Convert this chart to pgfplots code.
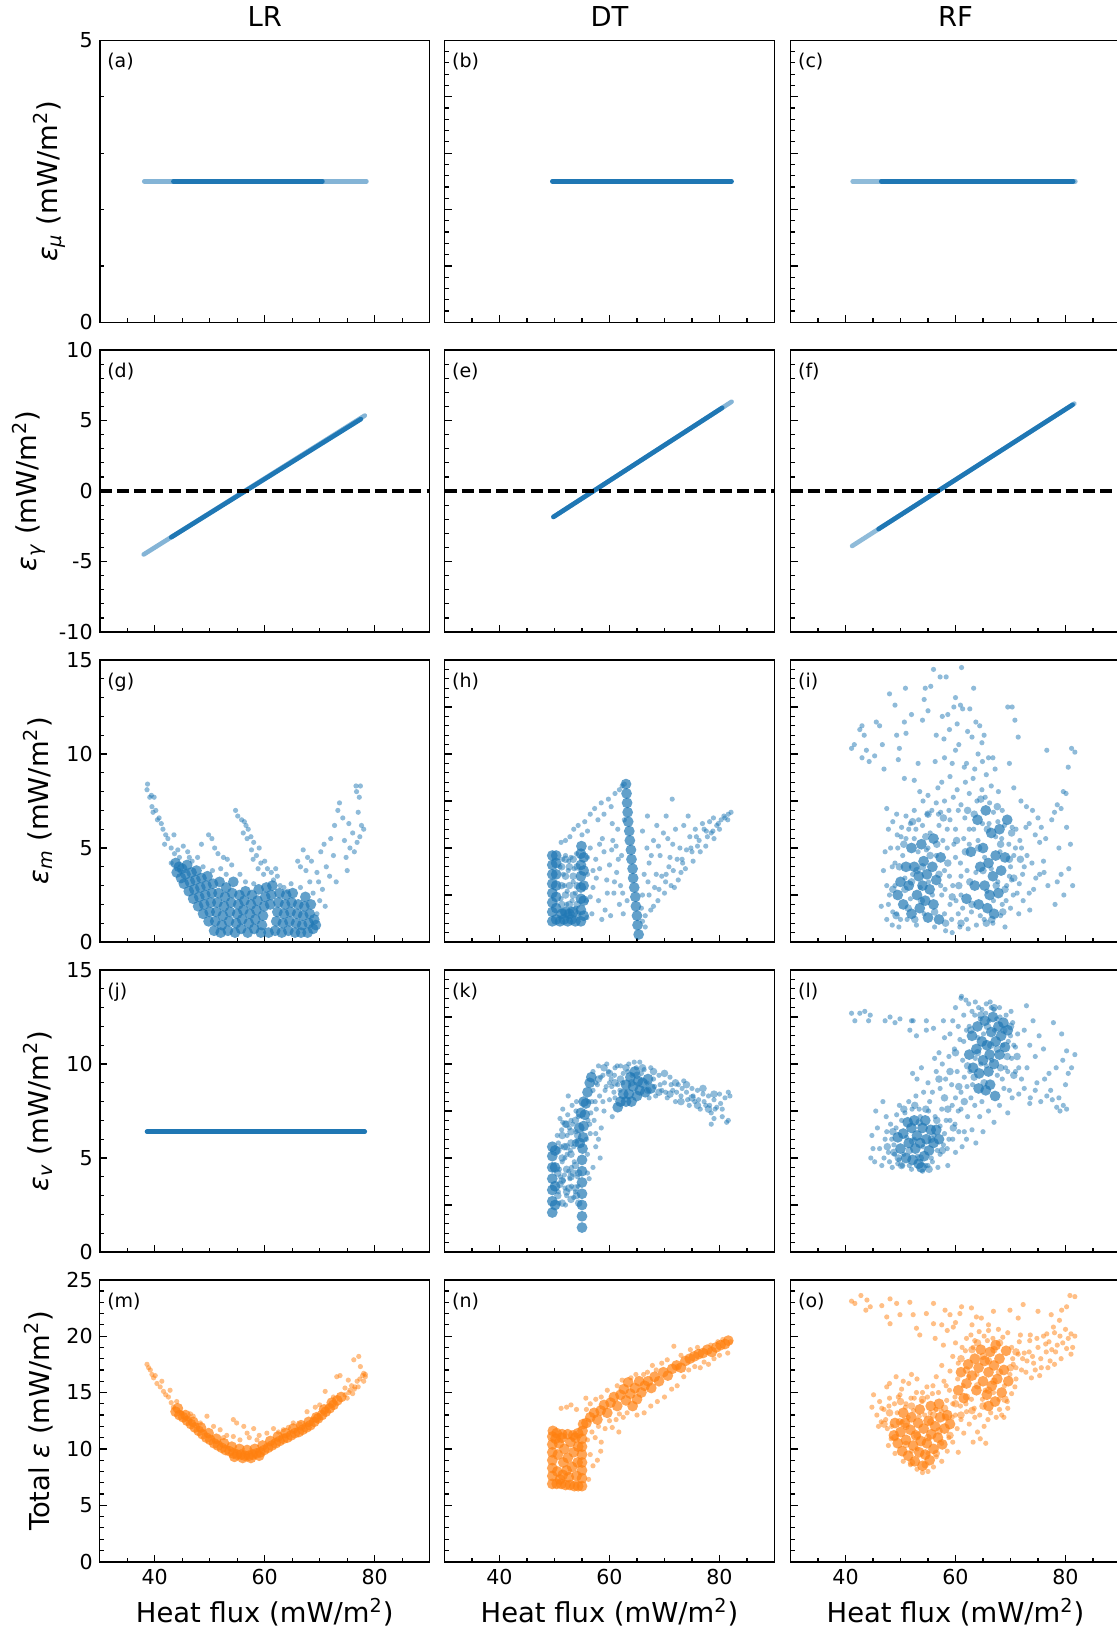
\documentclass[border=0pt]{standalone}
\usepackage{fontspec}
\setmainfont{DejaVu Sans}
\usepackage{pgfplots}
\pgfplotsset{compat=1.18}

\definecolor{tabblue}{HTML}{1F77B4}
\definecolor{taborange}{HTML}{FF7F0E}
\newcommand{\unitlab}{(mW/m\textsuperscript{2})}

\tikzset{plab/.style={anchor=north west, inner sep=0pt, xshift=3.6pt, yshift=-6.4pt, font=\fontsize{9.5}{11}\selectfont}}

\pgfplotsset{
  panel/.style={
    scale only axis, width=165pt, height=141pt, anchor=north west,
    xmin=30, xmax=90, xtick={40,60,80}, minor xtick={35,45,50,55,65,70,75,85},
    xticklabels={},
    tick align=inside, tick pos=left,
    major tick length=3.5pt, minor tick length=2pt,
    every tick/.append style={black, line width=0.6pt},
    axis line style={line width=0.8pt},
    tick label style={font=\fontsize{10.3}{12}\selectfont},
    label style={font=\fontsize{13.7}{16}\selectfont},
    every axis title/.style={at={(0.5,1)}, anchor=base, yshift=6.8pt, font=\fontsize{13.7}{16}\selectfont},
  },
  r1a/.style={ymin=0,ymax=5,ytick={0,5},yticklabels={0,5},minor y tick num=4},
  r1/.style={ymin=0,ymax=5,ytick={0,1,2,3,4,5},yticklabels={},minor y tick num=4},
  r2a/.style={ymin=-10,ymax=10,ytick={-10,-5,0,5,10},yticklabels={-10,-5,0,5,10},minor y tick num=4},
  r2/.style={ymin=-10,ymax=10,ytick={-10,-5,0,5,10},yticklabels={},minor y tick num=4},
  r3a/.style={ymin=0,ymax=15,ytick={0,5,10,15},yticklabels={0,5,10,15},minor y tick num=4},
  r3/.style={ymin=0,ymax=15,ytick={0,2.5,5,7.5,10,12.5,15},yticklabels={},minor y tick num=4},
  r5a/.style={ymin=0,ymax=25,ytick={0,5,10,15,20,25},yticklabels={0,5,10,15,20,25},minor y tick num=4},
  r5/.style={ymin=0,ymax=25,ytick={0,5,10,15,20,25},yticklabels={},minor y tick num=4},
  bottom/.style={xticklabels={40,60,80}, xlabel={Heat flux \unitlab}},
  pts/.style={color=#1, only marks, mark=*, mark size=1.3pt,
    mark options={fill=#1, fill opacity=0.5, draw opacity=0, line width=0pt}},
  mid/.style={color=#1, only marks, mark=*, mark size=1.9pt,
    mark options={fill=#1, fill opacity=0.5, draw opacity=0, line width=0pt}},
  core/.style={color=#1, only marks, mark=*, mark size=2.7pt,
    mark options={fill=#1, fill opacity=0.7, draw opacity=0, line width=0pt}},
  ln/.style={draw=tabblue, line width=2.3pt, line cap=round},
  zero/.style={black, line width=2pt, dash pattern=on 6pt off 2.6pt},
}

\begin{document}
\begin{tikzpicture}

% ---------------- row 1 ----------------
\begin{axis}[panel, r1a, at={(49.85pt,-20.15pt)}, title={LR},
  ylabel={\textit{ε}\textsubscript{\textit{μ}} \unitlab}]
\addplot[ln, opacity=0.55] coordinates {(38.1,2.5) (78.5,2.5)};
\addplot[ln] coordinates {(43.4,2.5) (70.5,2.5)};
\node[plab] at (rel axis cs:0,1) {(a)};
\end{axis}

\begin{axis}[panel, r1, at={(222.25pt,-20.15pt)}, title={DT}]
\addplot[ln] coordinates {(49.6,2.5) (82.2,2.5)};
\node[plab] at (rel axis cs:0,1) {(b)};
\end{axis}

\begin{axis}[panel, r1, at={(395.25pt,-20.15pt)}, title={RF}]
\addplot[ln, opacity=0.5] coordinates {(41.3,2.5) (81.8,2.5)};
\addplot[ln] coordinates {(46.5,2.5) (81.4,2.5)};
\node[plab] at (rel axis cs:0,1) {(c)};
\end{axis}

% ---------------- row 2 ----------------
\begin{axis}[panel, r2a, at={(49.85pt,-175pt)},
  ylabel={\textit{ε}\textsubscript{\textit{γ}} \unitlab}]
\addplot[ln, opacity=0.55] coordinates {(38.0,-4.5) (78.2,5.35)};
\addplot[ln] coordinates {(43.0,-3.28) (77.5,5.1)};
\addplot[zero] coordinates {(30,0) (90,0)};
\node[plab] at (rel axis cs:0,1) {(d)};
\end{axis}

\begin{axis}[panel, r2, at={(222.25pt,-175pt)}]
\addplot[ln, opacity=0.55] coordinates {(49.8,-1.84) (82.2,6.33)};
\addplot[ln] coordinates {(49.8,-1.84) (80.5,5.9)};
\addplot[zero] coordinates {(30,0) (90,0)};
\node[plab] at (rel axis cs:0,1) {(e)};
\end{axis}

\begin{axis}[panel, r2, at={(395.25pt,-175pt)}]
\addplot[ln, opacity=0.5] coordinates {(41.2,-3.9) (81.6,6.2)};
\addplot[ln] coordinates {(46.0,-2.7) (81.3,6.12)};
\addplot[zero] coordinates {(30,0) (90,0)};
\node[plab] at (rel axis cs:0,1) {(f)};
\end{axis}

% ---------------- row 3 ----------------
\begin{axis}[panel, r3a, at={(49.85pt,-330pt)},
  ylabel={\textit{ε}\textsubscript{\textit{m}} \unitlab}]
\addplot[pts=tabblue] coordinates {
(38.7,8.4)(38.6,8.1)(39.1,7.7)(39.4,7.8)(39.9,7.7)(39.5,7.2)(39.7,6.9)(40.2,7.0)(40.5,6.5)(40.8,6.6)
(41.2,6.3)(41.5,6.0)(42.0,5.7)(42.4,5.5)(41.8,5.2)(43.5,5.7)(43.0,5.0)(43.6,4.7)(44.2,4.9)(44.5,4.5)
(45.2,5.1)(46.0,4.8)(46.3,4.5)(47.8,4.5)(48.5,5.2)(49.8,5.7)(50.4,5.5)(50.9,5.0)(51.5,4.7)(52.5,4.5)
(53.2,4.4)(54.0,4.1)(52.0,3.9)(55.5,3.6)
(54.7,7.0)(55.1,6.7)(55.8,6.5)(56.3,6.4)(56.6,6.2)(57.0,6.0)(56.1,5.8)(56.8,5.5)(57.5,5.6)(58.0,5.3)
(57.6,4.9)(58.5,4.6)(59.0,5.0)(59.3,4.2)(60.0,4.3)(60.5,3.9)(61.2,3.7)(61.6,3.3)(62.3,3.5)(62.8,3.0)
(63.5,2.9)(64.2,2.7)(59.8,3.6)(58.8,3.9)(57.9,4.4)
(66.0,4.3)(66.5,4.0)(67.5,3.8)(67.0,4.9)(67.8,4.5)(68.5,4.3)(69.5,3.7)(70.2,4.8)(70.8,5.2)(71.2,4.0)
(71.8,3.5)(72.0,5.5)(72.5,4.6)(73.0,3.2)(72.7,6.2)(73.3,7.0)(73.6,7.4)(74.2,6.6)(74.5,5.4)(74.8,4.5)
(75.0,3.8)(75.5,5.0)(75.3,6.3)(76.0,5.8)(76.3,4.8)(76.7,8.0)(76.6,8.3)(77.4,8.3)(77.2,7.7)(77.0,6.9)
(77.6,6.2)(78.0,6.0)(77.3,5.6)(76.8,5.3)(70.5,2.8)(70.0,2.2)(71.0,1.9)(69.5,1.5)(68.8,2.6)(69.8,3.2)
(43.0,4.2)(46.8,4.3)(48.8,4.0)(50.5,3.8)(53.0,3.6)(56.5,3.2)(58.0,3.1)(62.0,3.9)(64.8,3.1)(66.5,2.9)(68.2,3.2)
};
\addplot[core=tabblue] coordinates {
(43.8,4.2)(44.0,3.7)(44.4,4.0)(44.8,3.4)(45.0,3.9)(45.3,3.1)(45.6,3.6)(45.9,4.1)(46.2,2.7)(46.4,3.2)
(46.7,3.7)(47.0,2.3)(47.2,2.8)(47.4,3.3)(47.6,3.8)(47.9,1.9)(48.1,2.4)(48.3,2.9)(48.5,3.4)(48.8,1.5)
(49.0,2.0)(49.2,2.5)(49.4,3.0)(49.6,3.5)(49.8,1.1)(50.0,1.6)(50.2,2.1)(50.4,2.6)(50.6,3.1)(50.8,0.6)
(51.0,1.1)(51.2,1.6)(51.4,2.1)(51.6,2.6)(51.8,3.2)(52.0,0.5)(52.2,0.9)(52.4,1.4)(52.6,1.9)(52.8,2.4)
(53.0,2.9)(53.3,0.6)(53.5,1.1)(53.7,1.6)(53.9,2.1)(54.1,2.6)(54.3,3.2)(54.6,0.5)(54.8,1.0)(55.0,1.5)
(55.2,2.0)(55.4,2.5)(55.7,0.7)(55.9,1.2)(56.1,1.7)(56.3,2.2)(56.5,2.7)(56.9,0.5)(57.1,1.0)(57.3,1.5)
(57.5,2.0)(57.7,2.5)(58.1,0.7)(58.3,1.2)(58.5,1.7)(58.7,2.2)(58.9,2.8)(59.3,0.5)(59.5,0.9)(59.7,1.4)
(59.9,1.9)(60.1,2.4)(60.3,2.9)(60.7,0.5)(61.0,2.0)(61.2,2.5)(61.4,3.0)(61.9,0.6)(62.1,1.1)(62.3,1.6)
(62.5,2.1)(62.7,2.6)(63.1,0.5)(63.3,1.0)(63.5,1.5)(63.7,2.0)(63.9,2.5)(64.3,0.6)(64.5,1.1)(64.7,1.6)
(64.9,2.1)(65.1,2.6)(65.5,0.5)(65.7,1.0)(65.9,1.5)(66.1,2.0)(66.6,0.5)(66.8,0.9)(67.0,1.4)(67.2,1.9)
(67.4,2.4)(67.8,0.5)(68.0,1.0)(68.2,1.5)(68.4,2.0)(68.8,0.7)(69.0,1.2)(69.3,0.9)
};
\node[plab] at (rel axis cs:0,1) {(g)};
\end{axis}

\begin{axis}[panel, r3, at={(222.25pt,-330pt)}]
\addplot[pts=tabblue] coordinates {
(51.2,5.3)(52.0,5.4)(52.8,5.6)(53.5,6.0)(54.3,6.2)(55.5,6.4)(56.5,6.8)(57.3,7.1)(58.5,7.4)(59.8,7.6)
(60.3,7.2)(61.0,7.9)(61.8,8.1)(62.3,8.3)(62.7,8.4)(59.0,6.8)(57.9,6.5)(56.0,5.9)(55.0,5.7)(60.5,6.3)(61.5,6.0)
(56.5,5.0)(57.5,4.4)(58.2,3.9)(59.0,4.8)(59.5,3.3)(60.0,4.1)(60.8,2.6)(61.3,3.7)(61.8,2.0)(62.2,4.6)
(56.0,3.6)(57.0,2.9)(58.0,2.2)(59.2,1.7)(60.2,1.4)(61.2,5.1)(62.0,3.0)(55.8,2.2)(56.8,1.5)(57.6,3.4)
(58.7,5.5)(60.6,5.4)(62.5,1.5)(63.2,2.2)
(66.0,5.9)(66.8,5.0)(67.2,4.2)(68.0,5.4)(68.5,3.6)(69.2,4.6)(69.8,5.8)(70.2,3.2)(70.8,4.0)(71.5,5.2)
(71.8,2.9)(72.3,4.4)(73.0,3.7)(73.5,6.2)(74.0,4.9)(74.6,5.6)(75.2,4.3)(75.6,6.0)(76.3,5.4)(76.9,6.3)
(77.5,5.1)(78.2,6.4)(78.8,5.9)(79.5,6.2)(80.3,6.5)(81.0,6.6)(81.6,6.8)(82.1,6.9)(81.5,6.5)(80.0,6.0)
(79.0,5.5)(77.8,5.6)(76.5,4.8)(75.0,4.8)(73.8,3.9)(72.5,3.3)(71.2,3.0)(70.0,2.6)(68.8,2.2)(67.5,1.7)
(66.5,1.4)(66.0,2.5)(67.0,3.2)(68.2,2.9)(69.5,3.5)(71.0,4.5)(72.8,5.0)(71.4,7.6)(66.5,0.8)(65.8,1.8)
(66.9,6.7)(68.6,6.2)(70.3,6.7)(79.8,6.3)(80.8,6.7)(78.5,5.8)
(57.0,3.8)(58.2,5.2)(59.6,2.6)(60.4,4.9)(61.6,4.4)(62.4,2.6)(56.5,2.4)(58.6,1.2)(60.9,3.2)(62.7,6.5)
(66.3,3.6)(67.6,4.6)(68.9,5.1)(70.6,5.5)(72.0,6.0)(73.2,4.4)(74.3,6.7)(75.8,5.6)(77.2,6.0)(78.9,6.6)
(66.0,1.1)(67.2,2.5)(68.0,1.9)(69.0,2.8)(70.3,3.6)(71.6,3.8)(73.3,4.2)(74.8,5.0)(76.0,5.1)(77.6,5.9)
(51.5,4.4)(52.5,3.8)(53.0,4.5)(53.8,2.6)(52.2,2.0)(53.4,3.2)(52.8,1.5)(51.8,3.0)(56.0,4.5)(55.9,1.3)
(51.2,2.3)(51.6,3.6)(52.3,2.7)(52.6,4.3)(53.2,2.2)(53.6,3.9)(52.0,4.6)(51.0,4.0)(53.9,1.8)(54.0,4.7)
};
\addplot[mid=tabblue] coordinates {
(51.3,2.0)(51.3,3.0)(51.3,4.0)(52.0,2.5)(52.0,3.5)(52.0,4.4)(52.7,2.0)(52.7,3.0)(52.7,4.0)(53.4,2.5)
(53.4,3.5)(53.4,4.4)(54.1,2.0)(54.1,3.0)(54.1,4.0)(51.6,1.6)(53.0,1.7)(54.2,1.5)
};
\addplot[core=tabblue] coordinates {
(49.6,1.1)(49.6,1.6)(49.6,2.1)(49.6,2.6)(49.6,3.1)(49.6,3.6)(49.6,4.1)(49.6,4.6)
(50.3,1.2)(50.3,1.8)(50.3,2.4)(50.3,3.0)(50.3,3.6)(50.3,4.2)(50.3,4.6)
(51.0,1.1)(51.7,1.2)(52.4,1.1)(53.1,1.2)(53.8,1.1)(51.3,1.5)(52.0,1.6)(52.7,1.5)(53.4,1.6)
(54.8,1.1)(54.8,1.7)(54.8,2.3)(54.8,2.9)(54.8,3.5)(54.8,4.1)(54.8,4.7)(54.9,5.1)
(55.3,1.4)(55.3,2.2)(55.3,3.0)(55.3,3.8)(55.3,4.5)
(63.0,8.4)(63.1,7.9)(63.2,7.4)(63.3,6.9)(63.4,6.4)(63.6,5.9)(63.7,5.4)(63.9,4.9)(64.0,4.4)(64.2,3.9)
(64.3,3.4)(64.5,2.9)(64.7,2.4)(64.8,1.9)(65.0,1.4)(65.1,0.9)(65.3,0.4)
};
\node[plab] at (rel axis cs:0,1) {(h)};
\end{axis}

\begin{axis}[panel, r3, at={(395.25pt,-330pt)}]
\addplot[pts=tabblue] coordinates {
(41.1,10.3)(41.6,10.5)(43.0,11.5)(43.4,11.0)(43.8,10.2)(43.0,9.8)(42.6,11.3)(44.3,9.6)(45.6,11.7)(45.3,9.9)
(46.2,11.5)(46.7,10.5)(47.0,9.2)(48.0,13.2)(49.0,12.6)(49.3,11.0)(49.6,9.7)(49.8,10.3)(50.9,13.5)(50.7,11.7)
(51.0,11.1)(50.7,8.7)(52.0,12.1)(52.5,8.6)(53.2,9.5)(53.5,8.0)(54.0,11.8)(54.3,12.9)(54.5,13.5)(55.0,12.3)
(55.5,13.6)(56.0,14.5)(56.3,9.6)(56.8,8.2)(57.2,14.1)(57.6,12.0)(57.9,10.8)(58.3,14.1)(58.6,12.1)(58.9,11.3)
(59.4,9.5)(59.7,12.5)(60.0,13.0)(60.3,11.6)(60.6,10.5)(60.9,12.6)(61.1,14.6)(61.3,12.4)(61.6,9.3)(62.2,11.2)
(62.6,12.4)(63.0,10.9)(63.3,13.5)(63.7,11.7)(64.1,10.0)(64.4,11.5)(64.9,9.6)(65.2,11.0)(65.6,8.9)(66.0,9.8)
(66.5,8.3)(67.2,9.2)(67.8,8.0)(68.5,7.0)(69.5,12.5)(70.3,12.5)(70.8,11.8)(71.4,10.9)(69.8,9.5)(70.6,8.2)
(71.9,7.5)(72.9,7.2)(73.4,6.3)(74.0,7.0)(74.5,5.7)(75.0,6.6)(75.6,6.1)(76.4,5.5)(76.6,10.2)(77.5,6.5)
(78.0,6.9)(78.5,7.3)(78.8,5.0)(79.2,7.1)(79.6,8.0)(80.1,7.9)(80.2,6.1)(80.5,9.3)(81.1,10.3)(81.7,10.1)
(80.9,5.2)(80.6,3.9)(81.3,3.0)(79.7,2.5)(79.2,3.6)(78.5,3.2)(78.1,2.0)(76.8,3.0)(76.0,4.3)(75.3,3.6)
(74.2,2.8)(73.5,1.7)(72.5,4.0)(71.6,3.1)(70.9,5.0)(70.3,6.1)(69.8,3.5)(69.2,2.2)(68.4,5.5)(67.7,6.4)
(66.9,6.9)(66.2,7.4)(65.4,7.7)(64.8,8.1)(63.9,7.5)(63.2,8.7)(62.5,7.9)(61.8,8.5)(61.0,7.3)(60.3,8.1)
(59.6,7.7)(58.8,7.0)(58.0,7.5)(57.3,6.9)(56.5,7.4)(55.7,7.0)(54.9,6.8)(54.1,7.5)(53.3,6.5)(52.5,7.0)
(51.8,6.3)(51.0,6.7)(50.2,6.1)(49.4,5.7)(48.6,6.4)(47.8,6.0)(47.2,4.8)(47.5,7.1)(46.9,3.8)(46.5,1.9)
(47.5,1.2)(48.5,0.9)(49.3,1.5)(58.2,0.6)(59.4,0.5)(60.8,0.8)(62.3,0.7)(63.8,0.9)(65.2,1.2)(66.8,1.0)
(68.2,1.4)(69.0,0.8)
(48.0,2.5)(48.5,4.0)(49.0,3.0)(49.5,5.0)(50.0,1.2)(51.0,5.5)(52.8,6.0)(55.0,5.0)(57.5,2.5)(58.0,3.8)
(58.5,5.0)(59.0,2.0)(59.5,3.0)(60.0,4.5)(60.5,1.5)(61.0,3.5)(61.5,5.5)(62.0,1.2)(62.5,6.0)(60.0,6.0)
(59.0,6.5)(58.0,1.5)(57.0,6.2)(61.0,2.5)(70.0,4.0)(70.5,2.5)(71.0,6.0)(72.0,5.0)(72.3,2.2)(71.5,1.5)
(73.0,4.6)(70.0,1.8)
(47.5,3.0)(47.8,2.0)(48.2,5.0)(48.6,1.6)(49.0,4.2)(49.3,6.8)(49.7,0.8)(50.1,5.6)(50.4,4.6)(50.8,3.4)
(51.2,1.2)(51.5,6.0)(51.8,2.3)(52.2,3.6)(52.5,5.5)(52.9,0.9)(53.2,4.8)(53.6,2.9)(54.0,6.2)(54.3,1.5)
(54.7,4.9)(55.1,3.2)(55.4,5.8)(55.8,2.5)(56.2,0.8)(56.5,4.6)(56.9,6.8)(57.3,3.0)(57.7,5.4)(58.1,2.8)
(58.5,6.0)(58.9,3.5)(59.3,1.2)(59.7,5.2)(60.1,2.2)(60.5,7.0)(60.9,4.2)(61.3,1.8)(61.7,6.6)(62.1,3.8)
(62.5,5.2)(62.9,1.6)(63.3,6.0)(63.7,3.7)(64.1,5.4)(64.5,1.4)(64.9,6.3)(65.3,4.5)(65.7,2.7)(66.1,6.3)
(66.5,3.9)(66.9,2.2)(67.3,5.6)(67.7,3.2)(68.1,4.8)(68.5,2.0)(68.9,6.2)(69.3,3.0)(69.7,5.2)(70.2,3.3)
(70.6,4.6)(71.2,2.6)(71.7,5.4)(72.2,3.6)(72.8,6.1)(73.4,2.6)(73.9,4.2)(74.6,3.4)(75.3,5.3)(76.1,3.7)
(55.0,7.8)(57.5,8.5)(59.0,8.8)(62.0,9.5)(63.5,9.2)(64.8,10.6)(66.8,9.8)(60.0,10.2)(58.0,9.8)(56.5,11.0)
};
\addplot[mid=tabblue] coordinates {
(49.8,4.0)(50.6,5.2)(51.4,1.8)(52.2,6.4)(53.0,3.8)(53.8,2.2)(54.6,5.6)(55.4,4.6)(56.2,1.6)(57.0,3.6)
(57.8,6.6)(58.6,4.2)(59.4,2.4)(60.2,5.4)(61.0,1.0)(61.8,4.8)(62.6,3.2)(63.4,6.8)(64.2,5.0)(65.0,3.8)
(65.8,6.0)(66.6,1.2)(67.4,3.0)(68.2,5.2)(69.0,2.8)(69.8,4.4)(70.6,3.4)(50.8,2.8)(52.6,1.2)(55.0,6.8)
(56.6,5.2)(58.2,1.0)(60.6,3.0)(62.2,7.0)(64.6,7.6)(67.6,7.2)(63.0,2.0)(65.6,1.0)(54.0,4.0)(52.0,3.2)
(68.6,1.6)(70.2,5.8)(71.8,4.4)(48.6,2.8)(49.2,1.4)
};
\addplot[core=tabblue] coordinates {
(50.5,2.0)(51.5,3.0)(52.0,1.5)(52.5,4.0)(53.0,2.5)(53.3,3.5)(53.5,1.8)(54.0,3.0)(54.2,4.3)(54.5,2.2)
(54.8,3.6)(55.0,1.3)(55.3,2.8)(55.8,4.0)(56.0,2.0)(56.5,3.3)(57.0,1.2)(57.3,4.5)(51.0,4.0)(50.0,3.2)
(49.5,2.5)(52.0,5.0)(53.8,5.2)(56.0,5.5)
(63.5,3.0)(64.2,2.0)(64.5,4.0)(65.0,5.0)(65.3,3.0)(65.8,1.8)(66.0,4.2)(66.2,2.5)(66.5,5.8)(66.8,3.5)
(67.0,1.5)(67.3,4.6)(67.8,2.6)(68.0,6.0)(68.3,3.8)(62.8,4.8)(62.0,2.3)(64.0,6.5)(65.5,7.0)(69.0,4.5)(69.4,6.5)
};
\node[plab] at (rel axis cs:0,1) {(i)};
\end{axis}

% ---------------- row 4 ----------------
\begin{axis}[panel, r3a, at={(49.85pt,-485pt)},
  ylabel={\textit{ε}\textsubscript{\textit{v}} \unitlab}]
\addplot[ln] coordinates {(38.6,6.4) (78.2,6.4)};
\node[plab] at (rel axis cs:0,1) {(j)};
\end{axis}

\begin{axis}[panel, r3, at={(222.25pt,-485pt)}]
\addplot[pts=tabblue] coordinates {
(50.7,3.2)(50.9,4.4)(51.2,5.6)(51.3,6.5)(51.6,3.8)(51.9,5.0)(52.2,3.0)(52.3,6.2)(52.6,4.3)(52.9,5.4)
(53.1,3.5)(53.3,6.8)(53.6,4.8)(53.8,3.2)(54.0,5.9)(54.2,4.0)(51.0,7.1)(51.5,7.6)(52.4,7.3)(53.2,7.8)
(50.5,6.2)(51.8,4.1)(53.5,2.9)(54.3,7.2)(50.8,2.6)(52.0,2.5)(51.4,4.8)(52.8,3.9)(53.9,6.4)
(57.0,9.6)(57.5,9.0)(58.0,9.9)(58.2,8.3)(58.8,9.4)(59.2,8.6)(59.5,10.0)(60.0,8.1)(60.3,9.2)(60.8,8.5)
(61.0,9.8)(61.5,8.9)(62.0,9.9)(62.5,9.5)(63.5,10.0)(64.5,10.1)(65.5,10.1)(66.3,9.7)(67.5,9.8)(68.0,9.2)
(68.4,8.3)(69.0,9.4)(69.5,8.6)(70.0,9.0)(70.5,8.2)(71.0,9.3)(71.5,8.6)(72.0,8.0)(72.5,8.9)(73.0,8.3)
(73.5,9.1)(74.0,8.5)(74.5,7.8)(75.0,8.7)(75.5,8.0)(76.0,8.6)(76.5,7.6)(77.0,8.4)(77.5,7.8)(78.0,8.3)
(78.5,7.4)(79.0,8.1)(79.5,7.7)(80.0,8.4)(80.5,7.6)(81.0,8.2)(81.6,8.5)(81.9,8.3)(78.5,6.8)(79.0,7.1)
(80.5,7.2)(81.3,6.9)(81.6,7.0)(59.0,7.5)(60.5,7.2)(58.0,6.0)(58.3,5.0)(57.5,5.6)(56.5,6.3)(57.0,4.5)
(56.3,3.9)(56.0,5.2)(56.1,7.0)(58.5,6.6)(57.6,7.6)(56.8,8.0)(52.5,8.3)(53.0,7.0)(54.0,8.0)
(50.7,5.8)(51.1,4.0)(51.5,6.9)(51.9,3.4)(52.3,5.2)(52.7,6.6)(53.1,4.5)(53.5,5.6)(53.9,7.5)(54.3,3.5)
(55.8,6.0)(56.2,8.0)(56.6,7.4)(57.0,8.6)(57.4,8.0)(57.8,8.9)(58.4,9.3)(58.8,8.0)(59.4,8.8)(59.8,9.6)
(60.4,8.8)(60.9,9.4)(61.4,9.9)(61.9,8.6)(62.4,9.0)(63.3,9.6)(64.1,9.4)(64.9,9.8)(65.8,9.5)(66.8,9.0)
(67.2,8.2)(68.2,8.8)(69.2,8.9)(70.2,8.5)(71.2,8.9)(72.2,8.5)(73.2,8.7)(74.2,8.1)(75.2,8.3)(76.2,8.1)
(77.2,8.0)(78.2,7.8)(79.2,7.6)(80.2,7.9)(61.0,8.2)(60.0,9.0)(56.4,6.8)(57.2,7.0)(56.0,4.2)(57.5,6.3)
};
\addplot[mid=tabblue] coordinates {
(51.0,3.6)(51.8,5.6)(52.6,3.4)(53.4,4.2)(54.2,6.2)(52.0,6.8)(53.0,5.8)(54.0,3.0)(58.0,9.2)(59.0,9.8)
(60.0,9.5)(61.0,9.0)(62.0,9.2)(63.0,9.8)(64.0,9.0)(65.0,9.4)(66.0,9.8)(67.0,8.6)(68.0,9.6)(69.0,8.5)
(70.0,9.5)(71.0,8.4)(72.0,9.0)(73.0,8.0)(74.0,8.9)(75.0,8.2)(76.0,7.8)(77.0,8.7)(78.0,7.6)(79.0,8.4)
(50.6,3.0)(50.6,4.2)(50.6,5.4)(51.4,2.6)(51.4,3.8)(51.4,5.0)(51.4,6.2)(52.2,3.2)(52.2,4.4)(52.2,5.6)
(52.2,6.8)(53.0,2.8)(53.0,4.0)(53.0,5.2)(53.0,6.4)(53.8,3.4)(53.8,4.6)(53.8,5.8)(53.8,7.0)(54.4,2.6)(54.4,4.2)
};
\addplot[core=tabblue] coordinates {
(49.6,2.1)(49.6,2.7)(49.6,3.3)(49.6,3.9)(49.6,4.5)(49.6,5.1)(49.6,5.6)(50.1,2.5)(50.1,3.5)(50.1,4.5)(50.1,5.4)
(55.0,1.3)(55.0,1.9)(55.0,2.5)(55.0,3.1)(55.0,3.7)(55.0,4.3)(55.0,4.9)(55.1,5.5)(55.2,6.1)(55.3,6.7)
(55.5,7.3)(55.7,7.9)(56.0,8.5)(56.4,9.0)(56.7,9.3)(54.6,5.8)(54.5,6.6)(54.8,7.4)(55.3,8.0)
(62.5,8.4)(63.0,8.0)(63.0,8.9)(63.5,8.4)(63.8,9.3)(64.0,8.0)(64.3,8.8)(64.6,9.6)(65.0,8.3)(65.2,9.1)
(65.5,8.6)(66.0,9.0)(66.5,8.5)(67.0,9.2)(67.5,8.7)(62.0,8.0)(61.5,7.7)
};
\node[plab] at (rel axis cs:0,1) {(k)};
\end{axis}

\begin{axis}[panel, r3, at={(395.25pt,-485pt)}]
\addplot[pts=tabblue] coordinates {
(41.1,12.7)(41.7,12.3)(42.6,12.7)(43.5,12.8)(44.2,12.3)(44.5,12.6)(47.2,12.3)(48.1,12.5)(49.0,12.2)(49.9,12.4)
(52.0,12.3)(52.3,12.3)(54.7,12.3)(51.7,11.8)(52.9,11.5)(54.7,11.8)(56.0,11.9)(57.8,12.3)
(44.6,5.0)(45.0,5.5)(45.3,4.8)(45.8,6.6)(46.2,5.5)(46.6,4.6)(47.2,6.0)(47.4,7.2)(47.8,5.3)(48.2,6.8)
(48.5,4.5)(48.8,5.7)(49.3,7.3)(49.5,4.7)(49.8,7.8)(50.3,4.6)(50.8,7.4)(51.5,8.0)(52.0,4.4)(52.8,8.3)
(53.4,7.6)(54.0,4.3)(55.0,4.6)(55.8,4.8)(56.3,7.2)(57.2,5.2)(57.5,7.6)(58.0,6.3)(58.5,5.5)(59.0,7.0)
(59.5,6.0)(60.0,5.3)(60.6,6.4)(61.2,5.6)(62.0,6.0)(58.6,4.6)(56.8,4.5)(55.3,8.0)(54.2,8.5)(53.0,9.2)
(52.2,9.5)(53.8,9.8)(45.5,7.5)(46.8,8.0)(44.8,6.2)
(55.0,9.0)(55.8,8.5)(56.5,9.6)(57.2,8.7)(57.6,10.0)(58.2,9.2)(58.8,10.4)(59.3,8.9)(59.8,10.8)(60.3,9.6)
(60.8,11.3)(61.3,10.2)(60.0,8.2)(61.0,7.6)(62.2,7.2)(63.0,6.5)(63.7,5.8)(64.4,7.2)(65.0,6.4)(64.8,8.0)
(59.5,12.3)(60.0,13.0)(60.5,12.0)(61.0,13.5)(61.5,12.6)(62.0,11.8)(62.4,13.2)(63.0,12.8)(63.6,13.3)(64.2,13.0)
(64.8,12.9)(65.6,13.2)(66.3,13.3)(67.0,12.9)(68.0,13.0)(69.2,12.6)(70.0,11.5)(70.4,12.2)(70.9,10.9)(71.3,11.6)
(70.2,10.3)(69.5,9.6)(68.8,8.7)(68.0,7.8)(69.5,7.4)(70.3,8.2)(71.5,9.8)(72.9,13.1)(74.1,12.3)(72.5,11.8)
(73.5,11.0)(74.5,10.4)(75.2,11.5)(76.0,10.8)(77.8,12.2)(79.3,11.6)(80.2,10.7)(81.7,10.5)(80.5,9.5)(79.5,10.2)
(78.3,9.8)(77.0,9.5)(76.6,8.3)(75.5,8.0)(74.5,8.6)(73.6,8.2)(72.5,8.7)(71.5,8.4)(78.4,7.7)(79.6,7.8)
(80.2,7.6)(79.0,7.5)(77.6,8.1)(81.1,9.8)(61.6,6.4)(62.8,8.2)(63.5,7.8)(66.0,7.5)(67.0,6.9)(61.1,13.6)(61.9,13.4)
(47.0,5.0)(47.5,6.4)(48.0,4.8)(48.4,6.0)(48.9,5.2)(49.2,6.6)(49.7,4.9)(50.2,7.0)(50.6,5.2)(51.1,6.1)
(51.6,4.6)(52.1,7.6)(52.5,6.0)(53.1,5.1)(53.6,7.2)(54.1,5.6)(54.6,4.6)(55.1,7.5)(55.6,5.0)(56.1,6.2)
(56.7,5.4)(57.2,6.7)(57.8,5.7)(58.3,7.0)(58.8,6.0)(59.4,7.8)(59.9,6.8)(60.5,7.5)(61.0,8.5)(61.6,9.3)
(62.1,8.8)(62.6,9.6)(63.1,8.9)(63.6,10.3)(64.1,11.4)(64.6,10.0)(65.1,11.6)(65.6,9.9)(66.1,12.3)(66.6,10.2)
(67.1,11.8)(67.6,9.4)(68.1,12.5)(68.6,11.0)(69.1,9.8)(69.6,11.2)(70.1,12.8)(70.6,11.0)(61.5,11.2)(62.5,12.0)
(63.5,12.6)(64.5,12.4)(65.5,12.7)(66.5,13.0)(67.5,12.4)(68.5,9.2)(69.8,8.6)(70.9,9.6)(72.0,9.2)(73.0,9.8)
(73.5,7.9)(74.8,9.0)(76.2,9.2)(77.3,8.6)(78.8,8.2)(80.0,8.9)(57.0,10.6)(58.0,11.4)(59.0,11.6)(56.2,10.3)
};
\addplot[mid=tabblue] coordinates {
(47.6,5.6)(48.6,6.4)(49.6,5.0)(50.6,7.6)(51.6,5.4)(52.6,7.8)(53.6,5.0)(54.6,7.6)(55.6,6.0)(56.6,7.0)
(57.6,5.4)(58.6,7.6)(59.6,6.6)(60.6,8.8)(61.6,8.0)(62.2,9.9)(62.8,11.8)(63.4,9.3)(64.0,10.6)(64.6,12.6)
(65.2,9.0)(65.8,12.0)(66.4,11.0)(67.0,13.0)(67.6,10.8)(68.2,9.8)(68.8,11.8)(69.4,10.4)(70.0,12.0)(70.6,9.4)
(71.2,10.4)(59.0,9.6)(60.0,10.6)(58.0,8.2)(57.0,9.2)(55.2,4.4)(50.2,4.6)(52.2,5.9)(48.8,5.3)(53.4,6.9)
};
\addplot[core=tabblue] coordinates {
(50.0,5.5)(50.5,6.3)(51.0,5.0)(51.5,5.8)(52.0,6.6)(52.2,4.9)(52.7,5.5)(53.0,6.2)(53.3,4.7)(53.6,5.8)
(54.0,6.6)(54.3,5.1)(54.7,6.0)(55.2,5.4)(55.5,6.5)(56.0,5.8)(53.8,4.5)(52.5,7.0)(51.3,6.9)(49.5,6.1)
(54.5,7.0)(56.5,6.5)(57.0,6.0)
(62.5,10.5)(63.0,11.5)(63.2,9.8)(63.8,10.8)(64.0,12.0)(64.3,9.5)(64.8,11.2)(65.0,10.2)(65.3,12.3)(65.7,11.0)
(66.0,9.6)(66.2,10.5)(66.5,11.7)(66.8,12.5)(67.0,10.0)(67.3,11.2)(67.8,12.0)(68.0,10.5)(68.3,11.5)(68.7,12.2)
(69.0,10.9)(65.5,8.6)(66.3,8.9)(67.2,8.3)(64.2,8.7)(69.5,11.8)
};
\node[plab] at (rel axis cs:0,1) {(l)};
\end{axis}

% ---------------- row 5 ----------------
\begin{axis}[panel, r5a, bottom, at={(49.85pt,-639.85pt)},
  ylabel={Total \textit{ε} \unitlab}]
\addplot[pts=taborange] coordinates {
(38.6,17.5)(38.9,17.2)(39.2,17.0)(39.5,16.6)(39.8,16.3)(40.1,16.5)(40.4,15.8)(41.0,15.5)(41.6,15.1)(42.0,14.8)
(42.5,14.6)(43.0,14.1)(43.4,13.7)(42.8,15.2)(41.3,16.0)
(44.9,13.2)(45.8,12.7)(47.0,12.9)(48.3,12.3)(49.5,12.9)(50.7,12.0)(51.9,11.7)(53.1,11.2)(54.3,11.1)(54.3,12.6)
(54.9,12.3)(56.2,12.0)(56.8,11.4)(58.0,11.8)(60.4,11.4)(61.6,11.8)(63.4,11.7)(65.2,12.3)(66.4,12.2)(67.7,13.3)
(69.2,13.7)(71.0,15.1)(72.5,14.6)(73.1,16.4)(73.7,16.5)(74.6,15.4)(76.2,17.9)(77.1,18.2)(77.4,17.3)(78.0,16.7)
(78.3,16.4)(75.2,16.1)(75.5,15.2)(76.4,15.5)(57.2,11.0)(59.0,11.2)(62.5,11.5)(64.3,11.9)(70.0,13.9)(58.6,10.8)
(55.5,10.8)(52.5,11.0)(46.5,13.1)(44.0,14.2)
(74.6,14.8)(75.3,15.0)(75.8,15.6)(76.3,15.3)(76.8,16.0)(77.3,16.2)(77.8,16.5)(78.3,16.6)(78.0,16.0)(77.0,15.5)
(76.0,14.9)(75.0,14.5)
};
\addplot[core=taborange] coordinates {
(43.8,13.3)(44.5,13.0)(45.2,12.8)(45.9,12.5)(46.6,12.2)(47.3,11.9)(48.0,11.6)(48.7,11.3)(49.4,11.0)(50.1,10.8)
(50.8,10.5)(51.5,10.3)(52.2,10.1)(52.9,9.9)(53.6,9.8)(54.3,9.6)(55.0,9.5)(55.7,9.5)(56.4,9.4)(57.1,9.4)
(57.8,9.5)(58.5,9.6)(59.2,9.7)(59.9,9.9)(60.6,10.1)(61.3,10.3)(62.0,10.5)(62.7,10.7)(63.4,10.9)(64.1,11.0)
(64.8,11.2)(65.5,11.4)(66.2,11.5)(66.9,11.7)(67.6,11.9)(68.3,12.1)(69.0,12.4)(69.7,12.7)(70.4,13.0)(71.1,13.3)
(71.8,13.6)(72.5,13.9)(73.2,14.3)(73.9,14.6)
(44.2,13.6)(45.6,13.0)(47.0,12.4)(48.4,11.9)(49.8,11.4)(51.2,10.9)(52.6,10.5)(54.0,10.2)(55.4,10.0)(56.8,9.9)
(58.2,10.0)(59.6,10.3)(61.0,10.7)(62.4,11.1)(63.8,11.4)(65.2,11.8)(66.6,12.1)(68.0,12.4)(69.4,12.8)(70.8,13.5)
(72.2,14.1)(54.5,9.3)(56.0,9.2)(57.5,9.2)(59.0,9.4)
};
\node[plab] at (rel axis cs:0,1) {(m)};
\end{axis}

\begin{axis}[panel, r5, bottom, at={(222.25pt,-639.85pt)}]
\addplot[pts=taborange] coordinates {
(56.0,10.8)(56.8,11.5)(57.4,11.0)(58.0,12.0)(58.5,10.6)(59.2,11.8)(60.0,12.5)(60.5,11.9)(61.2,12.6)(61.8,13.1)
(62.5,12.8)(63.2,13.2)(55.8,13.5)(56.5,14.0)(57.5,14.4)(58.5,14.6)(59.6,15.2)(61.4,15.6)(62.3,16.1)(63.9,16.3)
(64.8,16.6)(66.2,16.6)(66.9,16.8)(67.8,17.4)(68.5,17.0)(69.5,17.6)(70.5,17.9)(71.7,19.1)(72.3,17.3)(73.5,16.4)
(74.4,17.0)(75.5,17.3)(76.5,17.2)(77.2,17.7)(78.0,17.5)(79.0,18.0)(80.0,18.3)(81.5,18.5)(82.0,19.5)(80.6,19.7)
(79.7,19.5)(78.4,19.2)(76.0,19.0)(74.7,18.8)(73.0,18.3)(66.3,13.2)(67.5,13.8)(68.7,14.2)(70.0,14.6)(71.3,15.3)
(72.3,15.6)(65.0,13.0)(57.8,9.0)(58.4,9.8)(61.7,11.5)(56.5,9.5)(52.2,13.7)(51.2,13.6)(53.0,13.9)(55.7,14.5)
(54.0,13.5)(56.2,7.3)(57.0,8.5)
};
\addplot[core=taborange] coordinates {
(49.6,6.9)(49.6,7.6)(49.6,8.3)(49.6,9.0)(49.6,9.7)(49.6,10.4)(49.6,11.1)(49.7,11.6)
(55.0,6.7)(55.0,7.4)(55.0,8.1)(55.0,8.8)(55.0,9.5)(55.0,10.2)(55.0,10.9)(55.1,11.6)(55.2,12.2)
(50.4,6.9)(51.2,6.9)(52.0,6.8)(52.8,6.8)(53.6,6.7)(54.3,6.7)
(50.4,11.4)(51.4,11.3)(52.4,11.3)(53.4,11.2)(54.3,11.4)
(50.5,8.0)(50.6,9.5)(50.8,10.5)(51.5,7.7)(51.6,8.8)(51.8,10.0)(52.4,9.2)(52.6,7.5)(52.9,10.6)(53.2,8.4)
(53.5,9.7)(54.0,7.6)(54.2,8.8)(54.3,10.2)(51.0,7.3)(52.2,8.1)(53.8,11.0)(50.2,10.9)(51.3,11.0)
(55.8,12.3)(56.5,12.8)(57.2,13.2)(57.8,12.6)(58.4,13.4)(59.0,13.9)(59.6,13.2)(60.2,14.1)(60.8,14.6)(61.4,13.8)
(62.0,14.8)(62.6,15.3)(63.0,14.3)(63.4,15.9)(63.8,14.9)(64.2,13.8)(64.6,15.4)(65.0,14.4)(65.4,16.0)(65.8,15.0)
(66.4,15.6)(67.0,16.0)(67.6,15.4)(68.2,16.4)(69.0,16.0)(69.8,16.8)(70.6,16.5)(71.4,17.1)(72.2,17.4)(73.0,17.2)
(73.8,17.8)(74.6,18.0)(75.4,18.2)(76.2,18.4)(77.0,18.5)(77.8,18.8)(78.6,18.6)(79.4,19.0)(80.2,19.2)(81.0,19.3)(81.6,19.6)
};
\node[plab] at (rel axis cs:0,1) {(n)};
\end{axis}

\begin{axis}[panel, r5, bottom, at={(395.25pt,-639.85pt)}]
\addplot[pts=taborange] coordinates {
(41.1,23.1)(41.7,22.9)(42.8,23.6)(43.9,23.2)(43.7,22.3)(44.5,22.6)(46.6,22.7)(48.1,23.3)(49.3,22.9)(49.9,21.9)
(47.5,21.7)(48.1,21.1)(51.7,23.0)(52.3,21.9)(52.9,20.7)(53.5,20.1)(54.7,22.0)(56.0,22.9)(56.0,21.1)(56.3,19.8)
(57.5,21.0)(57.8,19.2)(58.1,22.3)(59.0,21.9)(59.6,20.8)(61.1,22.6)(60.8,22.0)(62.9,22.5)(63.8,21.7)(64.7,21.6)
(66.9,22.2)(69.9,22.3)(72.3,22.8)(71.4,21.6)(75.0,22.2)(77.4,21.9)(78.9,21.4)(80.2,22.6)(80.8,23.6)(81.7,23.5)
(79.3,22.3)(77.8,20.8)(76.6,20.2)(73.6,20.1)(71.8,20.1)
(44.8,13.7)(45.1,14.8)(45.7,13.0)(46.2,14.2)(46.5,12.4)(47.0,13.5)(47.5,15.5)(47.6,11.8)(48.0,14.5)(48.3,10.9)
(49.2,16.4)(49.6,14.6)(50.2,15.3)(51.0,14.0)(51.5,15.8)(52.5,14.5)(53.0,16.2)(54.0,15.0)(54.8,15.5)(55.8,14.9)
(56.5,16.4)(57.5,17.4)(58.3,15.6)(59.0,16.9)(59.5,14.0)(60.0,13.0)(60.3,11.8)(61.0,12.6)(61.5,11.4)(62.0,13.3)
(62.5,12.2)(63.2,10.6)(63.5,12.8)(64.0,11.5)(64.5,10.9)(65.2,12.0)(65.5,10.5)(58.5,9.8)(59.5,10.6)(60.5,9.7)
(57.5,8.9)(56.0,8.4)(55.0,8.0)(54.0,7.9)(53.0,8.2)(51.8,8.6)(50.5,8.9)(49.0,9.6)(47.8,10.3)
(59.5,18.2)(60.0,19.4)(60.5,17.6)(61.2,19.0)(62.0,19.8)(62.8,20.1)(63.5,19.6)(64.3,20.4)(65.2,20.0)(66.0,20.5)
(66.8,19.8)(67.8,20.6)(68.6,19.9)(69.5,20.3)(70.2,19.0)(70.5,17.5)(71.0,16.2)(71.4,18.4)(70.2,14.9)(69.5,13.6)
(68.8,12.8)(68.0,13.5)(70.8,15.5)(72.0,17.0)(72.5,18.5)(73.0,17.8)(73.5,19.6)(74.0,18.2)(74.5,17.0)(75.0,19.0)
(75.5,18.0)(76.0,20.0)(76.5,18.6)(77.0,19.5)(77.5,18.8)(78.0,20.3)(78.5,19.2)(79.0,20.0)(79.5,19.4)(80.0,20.6)
(80.5,19.8)(81.0,20.2)(81.7,20.0)(81.3,19.0)(78.0,17.5)(76.8,17.2)(75.3,16.5)(73.8,16.3)
(46.0,12.0)(46.6,13.6)(47.3,12.6)(47.9,13.8)(48.4,12.0)(48.9,14.0)(49.4,13.2)(49.9,14.8)(50.3,12.4)(50.9,13.7)
(51.4,12.8)(51.9,14.5)(52.4,13.4)(52.9,15.0)(53.4,12.9)(53.9,14.2)(54.4,13.0)(54.9,14.6)(55.4,13.2)(55.9,15.6)
(56.4,13.5)(56.9,15.0)(57.4,13.4)(57.9,16.0)(58.4,14.3)(58.9,15.2)(59.4,12.8)(59.9,14.6)(60.4,16.2)(60.9,13.8)
(61.4,15.6)(61.9,14.0)(62.4,16.4)(62.9,14.4)(63.4,13.6)(63.9,16.6)(64.4,13.0)(64.9,14.4)(65.4,15.2)(65.9,12.6)
(66.4,13.2)(66.9,15.0)(67.4,12.8)(67.9,14.4)(68.4,13.0)(68.9,15.6)(69.4,14.2)(69.9,16.6)(70.4,18.0)(71.0,17.2)
(71.6,19.5)(72.2,18.0)(72.8,16.8)(73.4,18.6)(74.2,17.6)(74.8,19.8)(75.6,17.2)(76.4,19.3)(77.2,17.8)(78.2,18.6)
(79.2,18.0)(80.2,18.9)(81.0,18.4)(66.0,21.0)(63.0,21.0)(60.0,21.2)(58.5,20.5)(61.8,18.7)(63.2,19.0)(65.8,19.6)
(52.0,9.8)(53.0,10.0)(55.0,9.6)(56.5,9.3)(57.5,10.5)(58.8,11.0)(56.5,13.5)(52.0,16.6)(50.5,16.0)(48.0,15.8)
};
\addplot[mid=taborange] coordinates {
(47.0,12.2)(48.0,13.2)(49.0,11.0)(50.0,14.2)(51.0,12.0)(52.0,13.8)(53.0,11.2)(54.0,14.4)(55.0,11.0)(56.0,13.0)
(57.0,11.6)(58.0,13.6)(59.0,11.2)(60.0,14.0)(61.0,13.0)(62.0,14.6)(63.0,13.4)(64.0,15.6)(65.0,13.8)(66.0,15.2)
(67.0,16.0)(68.0,16.8)(69.0,14.4)(70.0,17.2)(71.0,18.6)(63.0,18.8)(64.0,19.4)(65.0,18.2)(66.0,17.8)(67.0,18.8)
(68.0,19.4)(61.0,18.0)(62.0,17.0)(52.0,8.8)(54.5,8.6)(56.5,9.6)(51.0,10.4)(49.8,12.4)(55.5,12.4)(58.2,12.8)
};
\addplot[core=taborange] coordinates {
(49.5,10.5)(50.0,11.5)(50.3,9.8)(50.8,12.3)(51.0,10.8)(51.4,9.4)(51.8,11.7)(52.0,12.8)(52.3,10.3)(52.6,8.9)
(52.8,11.2)(53.2,12.3)(53.4,9.7)(53.7,10.7)(54.0,8.5)(54.2,11.8)(54.5,9.5)(54.8,10.5)(55.1,12.5)(55.3,9.0)
(55.6,11.3)(56.0,10.0)(56.3,12.0)(56.8,11.0)(57.2,12.8)(57.6,10.4)(58.0,11.8)(58.5,13.0)(59.0,12.2)(48.8,11.2)
(49.0,12.3)(50.5,13.2)(53.5,13.5)(55.5,13.8)(57.0,14.0)
(63.0,16.5)(63.5,18.0)(63.8,15.2)(64.2,17.2)(64.6,18.8)(65.0,16.0)(65.3,17.8)(65.7,14.8)(66.0,16.8)(66.3,18.6)
(66.6,15.6)(67.0,17.4)(67.3,19.2)(67.6,16.2)(68.0,18.0)(68.4,15.0)(68.8,17.0)(69.2,18.7)(69.6,16.0)(66.0,13.8)
(67.2,14.2)(62.3,17.5)(62.0,15.8)(61.5,14.5)(60.5,15.2)(61.0,16.8)
};
\node[plab] at (rel axis cs:0,1) {(o)};
\end{axis}

\pgfresetboundingbox
\path[use as bounding box] (0,0) rectangle (558pt,-817pt);
\end{tikzpicture}
\end{document}
